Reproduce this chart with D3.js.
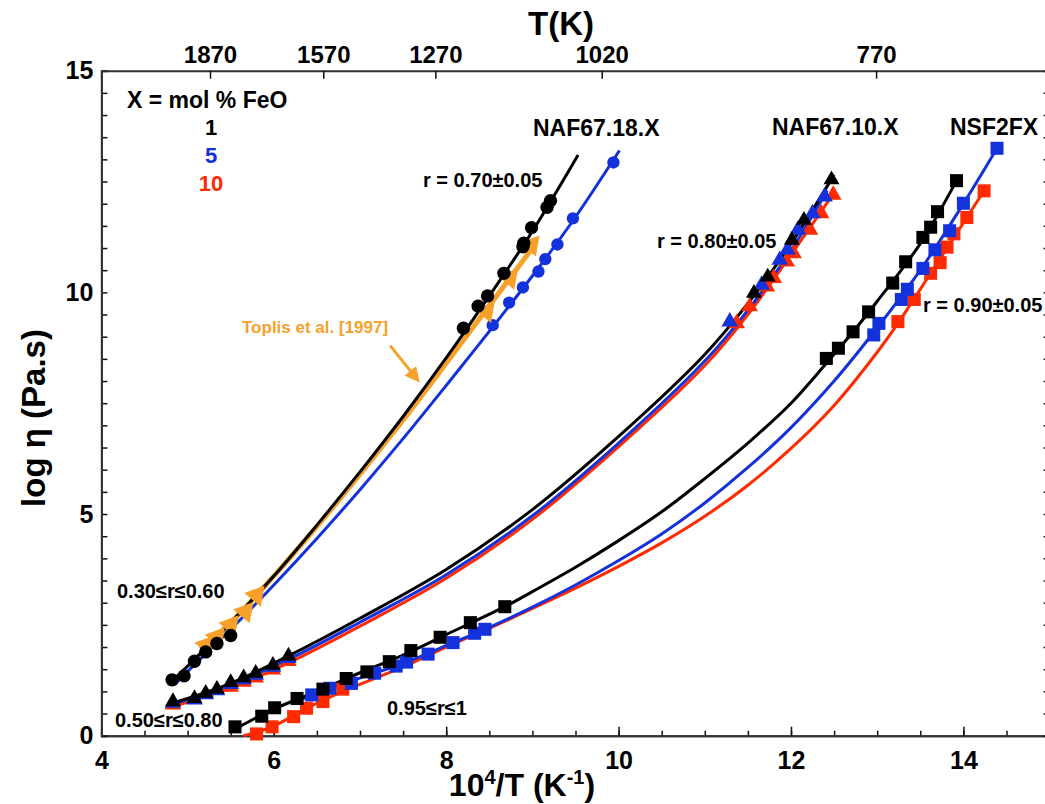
<!DOCTYPE html>
<html><head><meta charset="utf-8">
<script src="https://cdn.jsdelivr.net/npm/d3@7"></script>
<style>
body{margin:0;background:#fff;}
svg text{font-family:"Liberation Sans",Arial,Helvetica,sans-serif;font-weight:bold;}
</style></head>
<body><svg id="c" width="1045" height="804"></svg>
<script>
// ---------- data ----------
const xTicks = [4,6,8,10,12,14];
const yTicks = [0,5,10,15];
const topTickPos = [5.26,6.574,7.874,9.804,12.987];
const topTickLabels = ["1870","1570","1270","1020","770"];
const feoLabels = ["1","5","10"];

// NAF67.18.X (circles)
const g1BlackCurve = [[4.8,1.2],[5.0,1.57],[5.5,2.55],[6.0,3.6],[6.5,4.75],[7.0,5.95],[7.5,7.2],[8.0,8.52],[8.5,9.92],[9.0,11.38],[9.53,13.1]];
const g1BlueCurve  = [[4.85,1.15],[5.0,1.45],[5.5,2.4],[6.0,3.4],[6.5,4.45],[7.0,5.55],[7.5,6.7],[8.0,7.9],[8.54,9.22],[9.07,10.55],[9.5,11.7],[10.01,13.2]];
const g1BlackPts = [[4.82,1.26],[4.96,1.35],[5.08,1.68],[5.21,1.89],[5.34,2.08],[5.50,2.26],[8.20,9.19],[8.37,9.69],[8.48,9.92],[8.67,10.43],[8.89,11.03],[8.90,11.11],[8.99,11.46],[9.17,11.92],[9.21,12.07]];
const g1BluePts = [[8.54,9.26],[8.73,9.77],[8.89,10.11],[9.07,10.47],[9.15,10.75],[9.29,11.08],[9.47,11.67],[9.94,12.93]];
// Toplis et al. [1997]
const toplisCurve = [[5.15,1.95],[5.5,2.55],[6.0,3.6],[6.5,4.72],[7.0,5.9],[7.5,7.12],[8.0,8.4],[8.5,9.7],[9.0,11.0]];
const toplisPts = [[5.22,2.05],[5.34,2.23],[5.50,2.50],[5.67,2.80],[5.80,3.17],[8.47,9.57],[8.74,10.32],[8.99,11.07]];

// NAF67.10.X (triangles)
const g2BlackCurve = [[4.8,0.72],[5.5,1.18],[6.17,1.8],[7,2.65],[8,3.75],[9,5.1],[10,6.75],[11,8.6],[11.5,9.75],[12,11.1],[12.5,12.65]];
const g2BlueCurve  = [[4.8,0.69],[5.5,1.15],[6.2,1.75],[7,2.56],[8,3.63],[9,4.96],[10,6.6],[11,8.45],[11.5,9.6],[12,10.95],[12.42,12.3]];
const g2RedCurve   = [[4.8,0.64],[5.5,1.08],[6.2,1.67],[7,2.47],[8,3.55],[9,4.88],[10,6.52],[11,8.35],[11.5,9.5],[12,10.85],[12.5,12.25]];
const g2BlackPts = [[4.83,0.77],[5.08,0.84],[5.21,0.96],[5.34,1.05],[5.50,1.20],[5.65,1.31],[5.79,1.41],[5.99,1.59],[6.17,1.80],[11.57,9.98],[11.73,10.35],[12.01,11.18],[12.15,11.63],[12.47,12.54]];
const g2BluePts  = [[4.83,0.74],[5.08,0.81],[5.21,0.93],[5.34,1.02],[5.50,1.16],[5.65,1.27],[5.79,1.37],[5.99,1.55],[6.17,1.75],[11.29,9.34],[11.66,10.17],[11.87,10.73],[11.96,10.96],[12.08,11.41],[12.25,11.78],[12.39,12.16]];
const g2RedPts   = [[4.83,0.70],[5.50,1.10],[5.65,1.21],[5.79,1.31],[5.99,1.49],[6.17,1.68],[11.37,9.30],[11.52,9.68],[11.72,10.13],[11.80,10.32],[11.95,10.69],[12.03,10.88],[12.22,11.41],[12.35,11.78],[12.49,12.2]];

// NSF2FX (squares)
const g3BlackCurve = [[5.55,0.15],[6.0,0.6],[6.5,1.0],[7.0,1.42],[7.5,1.82],[8.0,2.28],[8.68,2.91],[9.0,3.25],[9.5,3.8],[10.0,4.4],[10.5,5.05],[11.0,5.8],[11.5,6.6],[12.0,7.5],[12.41,8.4],[12.72,9.11],[13.0,9.8],[13.5,11.1],[13.92,12.52]];
const g3BlueCurve  = [[6.3,0.8],[6.65,1.07],[7.17,1.41],[7.54,1.66],[8.08,2.10],[8.45,2.40],[9.0,2.9],[9.5,3.4],[10.0,3.95],[10.5,4.55],[11.0,5.25],[11.5,6.05],[12.0,6.95],[12.5,8.0],[12.96,9.1],[13.5,10.5],[14.0,12.0],[14.39,13.25]];
const g3RedCurve   = [[5.65,0.0],[5.98,0.2],[6.38,0.62],[6.8,1.0],[7.5,1.55],[8.0,2.0],[8.5,2.42],[9.0,2.87],[9.5,3.33],[10.0,3.82],[10.5,4.35],[11.0,4.95],[11.5,5.65],[12.0,6.48],[12.5,7.45],[13.0,8.65],[13.24,9.3],[13.62,10.43],[14.04,11.69],[14.24,12.29]];
const g3BlackPts = [[5.55,0.20],[5.86,0.44],[6.01,0.63],[6.27,0.84],[6.57,1.05],[6.84,1.29],[7.08,1.44],[7.34,1.67],[7.59,1.92],[7.93,2.22],[8.28,2.55],[8.68,2.91],[12.41,8.51],[12.55,8.74],[12.72,9.11],[12.90,9.56],[13.18,10.21],[13.33,10.69],[13.53,11.24],[13.62,11.47],[13.70,11.82],[13.92,12.52]];
const g3BluePts  = [[6.44,0.92],[6.65,1.07],[6.90,1.18],[7.17,1.41],[7.42,1.57],[7.54,1.66],[7.79,1.84],[8.08,2.10],[8.33,2.31],[8.45,2.40],[12.96,9.04],[13.02,9.30],[13.28,9.84],[13.35,10.07],[13.53,10.54],[13.67,10.96],[13.84,11.39],[14.00,12.01],[14.39,13.25]];
const g3RedPts   = [[5.80,0.04],[5.98,0.20],[6.23,0.43],[6.38,0.62],[6.57,0.77],[6.80,1.05],[13.24,9.34],[13.43,9.84],[13.62,10.43],[13.73,10.67],[13.81,11.02],[13.89,11.32],[14.04,11.69],[14.24,12.29]];

// ---------- styles ----------
const BLACK="#000000", BLUE="#1432dc", RED="#ff2a00", ORANGE="#f7a12a";

const svg = d3.select("#c");
const x = d3.scaleLinear().domain([4,15]).range([101.4,1049.6]);
const y = d3.scaleLinear().domain([0,15]).range([735.7,70.7]);

const line = d3.line().x(d=>x(d[0])).y(d=>y(d[1])).curve(d3.curveCatmullRom.alpha(0.5));

const axCol="#333";
function styleAxis(g){g.selectAll(".domain").attr("stroke",axCol).attr("stroke-width",2);
  g.selectAll(".tick line").attr("stroke","#111").attr("stroke-width",1.5);}

// bottom
svg.append("g").attr("transform",`translate(0,${y(0)})`)
  .call(d3.axisBottom(x).tickValues(d3.range(4,15.01,0.5)).tickSize(-5).tickFormat(""))
  .call(styleAxis);
svg.append("g").attr("transform",`translate(0,${y(0)})`)
  .call(d3.axisBottom(x).tickValues(xTicks).tickSize(-9).tickPadding(16).tickFormat(d3.format("d")))
  .call(styleAxis)
  .call(g=>g.selectAll("text").attr("font-size",25).attr("fill","#000"));
// left
svg.append("g").attr("transform",`translate(${x(4)},0)`)
  .call(d3.axisLeft(y).tickValues(d3.range(0,15.01,0.5)).tickSize(-6).tickFormat(""))
  .call(styleAxis);
svg.append("g").attr("transform",`translate(${x(4)},0)`)
  .call(d3.axisLeft(y).tickValues(yTicks).tickSize(0).tickPadding(8).tickFormat(d3.format("d")))
  .call(styleAxis)
  .call(g=>g.selectAll("text").attr("font-size",25).attr("fill","#000"));
// right
svg.append("g").attr("transform",`translate(${x(15)},0)`)
  .call(d3.axisRight(y).tickValues(d3.range(0,15.01,0.5)).tickSize(-6).tickFormat(""))
  .call(styleAxis);
// top
svg.append("g").attr("transform",`translate(0,${y(15)})`)
  .call(d3.axisTop(x).tickValues(topTickPos).tickSize(-8).tickPadding(8).tickFormat((d,i)=>topTickLabels[i]))
  .call(styleAxis)
  .call(g=>g.selectAll("text").attr("font-size",24).attr("fill","#000"));

// axis titles
svg.append("text").attr("x",561).attr("y",35).attr("text-anchor","middle").attr("font-size",33).text("T(K)");
const xt = svg.append("text").attr("x",522).attr("y",796).attr("text-anchor","middle").attr("font-size",32);
xt.append("tspan").text("10");
xt.append("tspan").attr("font-size",20).attr("dy",-12).text("4");
xt.append("tspan").attr("dy",12).text("/T (K");
xt.append("tspan").attr("font-size",20).attr("dy",-12).text("-1");
xt.append("tspan").attr("dy",12).text(")");
svg.append("text").attr("transform","translate(45,418) rotate(-90)").attr("text-anchor","middle").attr("font-size",33).text("log η (Pa.s)");

// curves
const curves = [
  [toplisCurve,ORANGE,5],
  [g1BlueCurve,BLUE,3],[g1BlackCurve,BLACK,3],
  [g2RedCurve,RED,3],[g2BlueCurve,BLUE,3],[g2BlackCurve,BLACK,3],
  [g3RedCurve,RED,3],[g3BlueCurve,BLUE,3],[g3BlackCurve,BLACK,3]
];
curves.forEach(([d,c,w])=>svg.append("path").datum(d).attr("d",line).attr("fill","none").attr("stroke",c).attr("stroke-width",w));

// markers
function pts(data,shape,color,size,rot){
  svg.append("g").selectAll("path").data(data).join("path")
    .attr("transform",d=>`translate(${x(d[0])},${y(d[1])}) rotate(${rot||0})`)
    .attr("d",d3.symbol().type(shape).size(size)).attr("fill",color);
}
pts(g3RedPts,d3.symbolSquare,RED,170);
pts(g3BluePts,d3.symbolSquare,BLUE,170);
pts(g3BlackPts,d3.symbolSquare,BLACK,170);
pts(g2RedPts,d3.symbolTriangle,RED,120);
pts(g2BluePts,d3.symbolTriangle,BLUE,120);
pts(g2BlackPts,d3.symbolTriangle,BLACK,110);
pts(g1BluePts,d3.symbolCircle,BLUE,120);
pts(toplisPts,d3.symbolTriangle,ORANGE,200,160);
pts(g1BlackPts,d3.symbolCircle,BLACK,140);

// annotations
function label(t,px,py,size,color,anchor){
  svg.append("text").attr("x",px).attr("y",py).attr("font-size",size).attr("fill",color||"#000").attr("text-anchor",anchor||"start").text(t);
}
label("X = mol % FeO",127,108,23);
const feoCols=[BLACK,BLUE,RED];
feoLabels.forEach((t,i)=>label(t,211,[135,163,191][i],22,feoCols[i],"middle"));
label("NAF67.18.X",533,136,23);
label("NAF67.10.X",772,135,23);
label("NSF2FX",950,135,23);
label("r = 0.70±0.05",423,187,20);
label("r = 0.80±0.05",657,248,20);
label("r = 0.90±0.05",923,312,20);
label("Toplis et al. [1997]",242,333,17,ORANGE);
label("0.30≤r≤0.60",117,598,20);
label("0.50≤r≤0.80",115,727,20);
label("0.95≤r≤1",387,715,20);

// arrow
svg.append("defs").append("marker").attr("id","ah").attr("viewBox","0 0 10 10").attr("refX",8).attr("refY",5)
  .attr("markerWidth",5).attr("markerHeight",5).attr("orient","auto").attr("markerUnits","strokeWidth")
  .append("path").attr("d","M0,0L10,5L0,10z").attr("fill",ORANGE);
const arrowLine=[[7.35,8.8],[7.67,8.02]];
svg.append("line").attr("x1",x(arrowLine[0][0])).attr("y1",y(arrowLine[0][1])).attr("x2",x(arrowLine[1][0])).attr("y2",y(arrowLine[1][1]))
  .attr("stroke",ORANGE).attr("stroke-width",3).attr("marker-end","url(#ah)");
</script></body></html>
